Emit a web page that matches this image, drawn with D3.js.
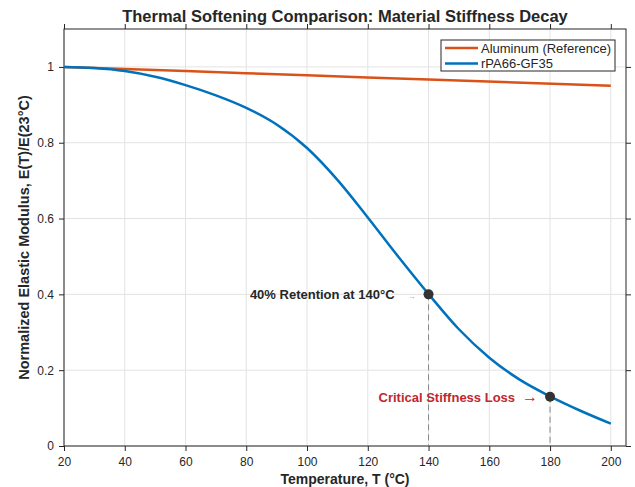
<!DOCTYPE html>
<html>
<head>
<meta charset="utf-8">
<script src="https://cdn.jsdelivr.net/npm/d3@7"></script>
<style>
  html, body { margin: 0; padding: 0; background: #fff; }
  svg { display: block; font-family: "Liberation Sans", Arial, sans-serif; }
</style>
</head>
<body>
<div id="chart"></div>
<script>
// Data
const temps = [20, 30, 40, 50, 60, 70, 80, 90, 100, 110, 120, 130, 140, 150, 160, 170, 180, 190, 200];
const pa66 = [1.000, 0.997, 0.989, 0.974, 0.952, 0.925, 0.892, 0.848, 0.786, 0.702, 0.603, 0.500, 0.401, 0.308, 0.233, 0.175, 0.131, 0.093, 0.059];
const alTemps = [20, 60, 100, 140, 200];
const aluminum = [1.000, 0.9889, 0.9778, 0.9667, 0.950];
const xTicks = [20, 40, 60, 80, 100, 120, 140, 160, 180, 200];
const yTicks = [0, 0.2, 0.4, 0.6, 0.8, 1];
const markers = [
  { t: 140, v: 0.40, label: '40% Retention at 140°C', color: '#262626', arrowColor: '#999' },
  { t: 180, v: 0.13, label: 'Critical Stiffness Loss', color: '#c0282d', arrowColor: '#c0282d' }
];
const legendItems = [
  { name: 'Aluminum (Reference)', color: '#D95319' },
  { name: 'rPA66-GF35', color: '#0072BD' }
];

const W = 635, H = 487;
const M = { top: 29, right: 9, bottom: 41, left: 64 };
const iw = W - M.left - M.right;
const ih = H - M.top - M.bottom;

const svg = d3.select('#chart').append('svg').attr('width', W).attr('height', H);
const g = svg.append('g').attr('transform', `translate(${M.left},${M.top})`);

const x = d3.scaleLinear().domain([20, 205]).range([0, iw]);
const y = d3.scaleLinear().domain([0, 1.1]).range([ih, 0]);

// Grid
g.append('g').selectAll('line').data(xTicks).join('line')
  .attr('x1', d => x(d)).attr('x2', d => x(d)).attr('y1', 0).attr('y2', ih)
  .attr('stroke', '#e3e3e3').attr('stroke-width', 1);
g.append('g').selectAll('line').data(yTicks).join('line')
  .attr('y1', d => y(d)).attr('y2', d => y(d)).attr('x1', 0).attr('x2', iw)
  .attr('stroke', '#e3e3e3').attr('stroke-width', 1);

// Axes (ticks outward on all sides)
const styleAxis = sel => {
  sel.select('.domain').remove();
  sel.selectAll('.tick line').attr('stroke', '#262626');
  sel.selectAll('.tick text').attr('fill', '#262626').attr('font-size', '12px');
};
g.append('g').attr('transform', `translate(0,${ih})`)
  .call(d3.axisBottom(x).tickValues(xTicks).tickSize(5).tickPadding(6)).call(styleAxis);
g.append('g')
  .call(d3.axisTop(x).tickValues(xTicks).tickSize(5).tickFormat('')).call(styleAxis);
g.append('g')
  .call(d3.axisLeft(y).tickValues(yTicks).tickSize(5).tickPadding(5).tickFormat(d3.format('~g'))).call(styleAxis);
g.append('g').attr('transform', `translate(${iw},0)`)
  .call(d3.axisRight(y).tickValues(yTicks).tickSize(5).tickFormat('')).call(styleAxis);

g.append('rect').attr('width', iw).attr('height', ih)
  .attr('fill', 'none').attr('stroke', '#262626').attr('stroke-width', 1);

// Dashed drop lines
g.append('g').selectAll('line').data(markers).join('line')
  .attr('x1', d => x(d.t)).attr('x2', d => x(d.t))
  .attr('y1', d => y(d.v)).attr('y2', ih)
  .attr('stroke', '#888').attr('stroke-width', 1).attr('stroke-dasharray', '6 4');

// Curves
const line = d3.line().x(d => x(d[0])).y(d => y(d[1])).curve(d3.curveMonotoneX);
g.append('path').datum(alTemps.map((t, i) => [t, aluminum[i]]))
  .attr('fill', 'none').attr('stroke', legendItems[0].color).attr('stroke-width', 2.5).attr('d', line);
g.append('path').datum(temps.map((t, i) => [t, pa66[i]]))
  .attr('fill', 'none').attr('stroke', legendItems[1].color).attr('stroke-width', 2.5).attr('d', line);

// Markers + annotations
g.append('g').selectAll('circle').data(markers).join('circle')
  .attr('cx', d => x(d.t)).attr('cy', d => y(d.v)).attr('r', 5).attr('fill', '#333');

const ann = g.append('g').selectAll('g').data(markers).join('g');
ann.append('text')
  .attr('x', d => x(d.t) - (d.t === 140 ? 34 : 35)).attr('y', d => y(d.v) + 5)
  .attr('text-anchor', 'end').attr('font-size', '13px').attr('font-weight', 'bold')
  .attr('fill', d => d.color).text(d => d.label);
ann.append('text')
  .attr('x', d => x(d.t) - (d.t === 140 ? 13 : 12)).attr('y', d => y(d.v) + 5)
  .attr('text-anchor', 'end').attr('font-size', d => d.t === 140 ? '8px' : '16px')
  .attr('fill', d => d.arrowColor).text('→');

// Legend
const lg = g.append('g').attr('transform', `translate(${x(20) + 377},11)`);
lg.append('rect').attr('width', 174).attr('height', 31)
  .attr('fill', '#fff').attr('stroke', '#262626').attr('stroke-width', 1);
const li = lg.selectAll('g').data(legendItems).join('g')
  .attr('transform', (d, i) => `translate(0,${8 + i * 15.5})`);
li.append('line').attr('x1', 4).attr('x2', 37).attr('stroke', d => d.color).attr('stroke-width', 2.5);
li.append('text').attr('x', 40).attr('y', 4.5).attr('font-size', '13px').attr('fill', '#262626').text(d => d.name);

// Titles
svg.append('text').attr('x', M.left + iw / 2).attr('y', 22)
  .attr('text-anchor', 'middle').attr('font-size', '16.5px').attr('font-weight', 'bold')
  .attr('fill', '#262626').text('Thermal Softening Comparison: Material Stiffness Decay');
svg.append('text').attr('x', M.left + iw / 2).attr('y', 484)
  .attr('text-anchor', 'middle').attr('font-size', '14px').attr('font-weight', 'bold')
  .attr('fill', '#262626').text('Temperature, T (°C)');
svg.append('text')
  .attr('transform', `translate(29,${M.top + ih / 2}) rotate(-90)`)
  .attr('text-anchor', 'middle').attr('font-size', '14.5px').attr('font-weight', 'bold')
  .attr('fill', '#262626').text('Normalized Elastic Modulus, E(T)/E(23°C)');
</script>
</body>
</html>
